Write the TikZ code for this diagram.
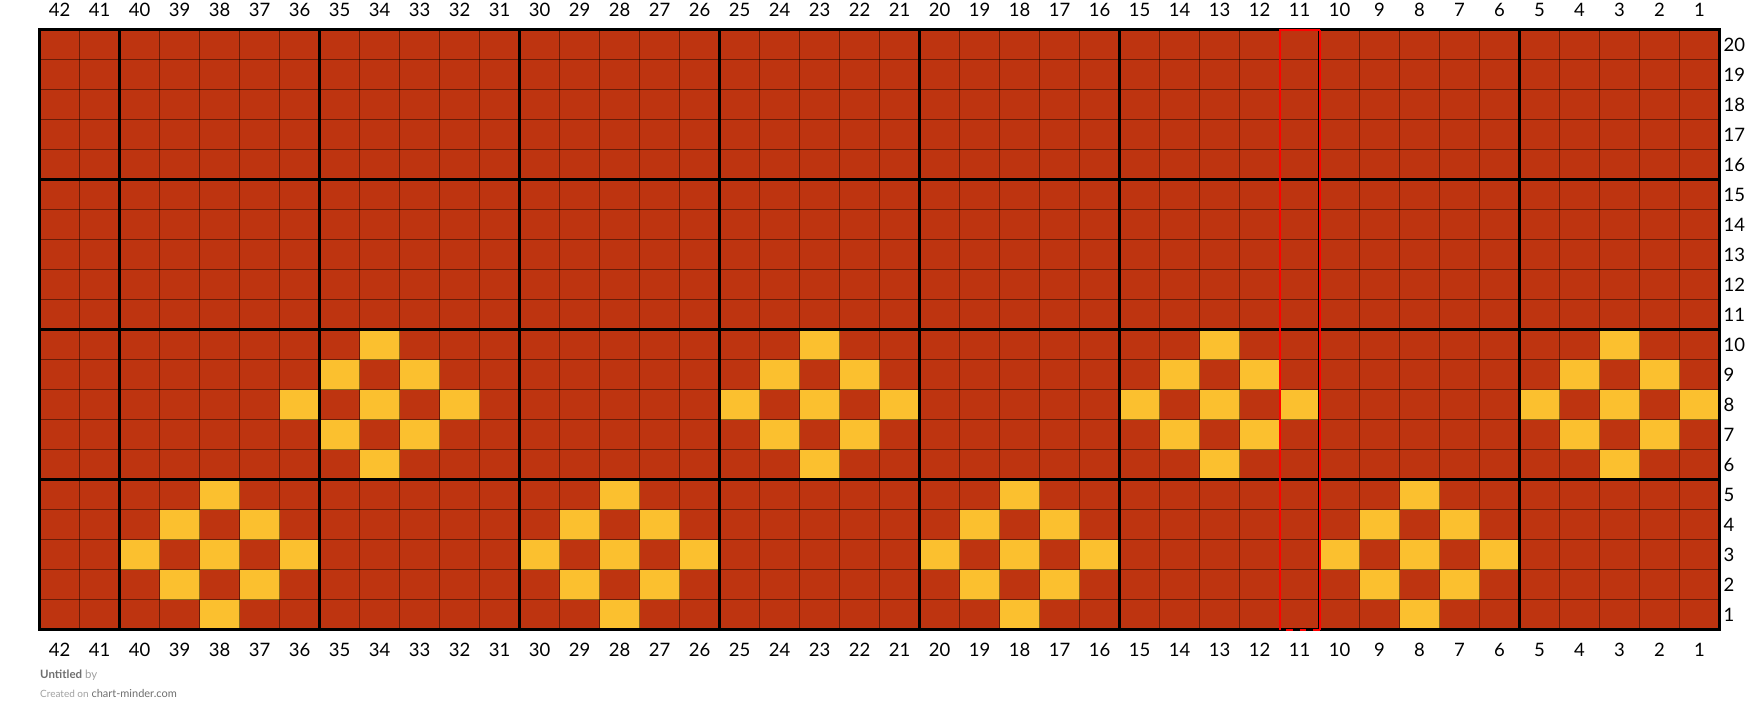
\documentclass[tikz,border=0pt]{standalone}
\usepackage{fontspec}
\setmainfont{Lato}
\usetikzlibrary{positioning}
\definecolor{rust}{HTML}{BE3410}
\definecolor{mustard}{HTML}{FBC02F}
\definecolor{footdark}{HTML}{6E6E6E}
\definecolor{footlight}{HTML}{A0A0A0}

% grid origin and cell size (px)
\newcommand{\gx}{39.5}
\newcommand{\gy}{29.5}
\newcommand{\cw}{40}
\newcommand{\ch}{30}

\begin{document}
\begin{tikzpicture}[x=1pt,y=-1pt,
    numlabel/.style={font=\fontsize{18.5}{20}\selectfont,inner sep=0pt},
    thinrule/.style={black,opacity=0.45,line width=1pt},
    thickrule/.style={black,line width=2.2pt},
    marker/.style={red,line width=2pt}]
  \useasboundingbox (0,0) rectangle (1760,723);

  % background cells
  \fill[rust] (\gx,\gy) rectangle (1719.5,629.5);

  % motif cells: diamonds centred at col/row
  \foreach \c/\r in {34/8,23/8,13/8,3/8,38/3,28/3,18/3,8/3} {
    \foreach \dx/\dy in {0/0,1/1,1/-1,-1/1,-1/-1,2/0,-2/0,0/2,0/-2} {
      \pgfmathsetmacro{\xl}{\gx+(42-\c-\dx)*\cw}
      \pgfmathsetmacro{\yt}{\gy+(20-\r-\dy)*\ch}
      \fill[mustard] (\xl,\yt) rectangle ++(\cw,\ch);
    }
  }

  % thin grid
  \foreach \i in {1,...,41} {
    \draw[thinrule] ({\gx+\i*\cw},\gy) -- ++(0,600);
  }
  \foreach \j in {1,...,19} {
    \draw[thinrule] (\gx,{\gy+\j*\ch}) -- ++(1680,0);
  }

  % thick lines every 5 stitches
  \foreach \k in {5,10,...,40} {
    \draw[thickrule] ({1719.5-\k*\cw},\gy) -- ++(0,600);
  }
  \foreach \k in {5,10,15} {
    \draw[thickrule] (\gx,{629.5-\k*\ch}) -- ++(1680,0);
  }
  \draw[black,line width=2.6pt] (\gx,\gy) rectangle (1719.5,629.5);

  % highlighted column 11
  \coordinate (hlbl) at (1279.5,629.5);
  \coordinate (hltl) at (1279.5,29.5);
  \coordinate (hltr) at (1319.5,29.5);
  \coordinate (hlbr) at (1319.5,629.5);
  \draw[marker] (hlbl) -- (hltl) -- (hltr);
  \draw[marker] (hltr) -- (hlbr);
  \draw[marker,dash pattern=on 6.7pt off 6.7pt,dash phase=6.7pt] (hlbl) -- (hlbr);

  % column numbers
  \foreach \k in {1,...,42} {
    \node[numlabel] (top\k) at ({\gx+(42-\k)*\cw+20},9.5) {\k};
    \node[numlabel] (bot\k) at ({\gx+(42-\k)*\cw+20},649.5) {\k};
  }
  % row numbers
  \foreach \r in {1,...,20} {
    \node[numlabel,anchor=west] (row\r) at (1723.5,{\gy+(20-\r)*\ch+15}) {\r};
  }

  % footer
  \node[anchor=west,inner sep=0pt,font=\fontsize{11.5}{13}\selectfont] (title) at (40,675)
    {\textcolor{footdark}{\bfseries Untitled} \textcolor{footlight}{by}};
  \node[anchor=west,inner sep=0pt,font=\fontsize{11}{13}\selectfont] (credit) at (40,693.5)
    {\textcolor{footlight}{\fontsize{10}{12}\selectfont Created on} \textcolor{footdark}{chart-minder.com}};
\end{tikzpicture}
\end{document}
